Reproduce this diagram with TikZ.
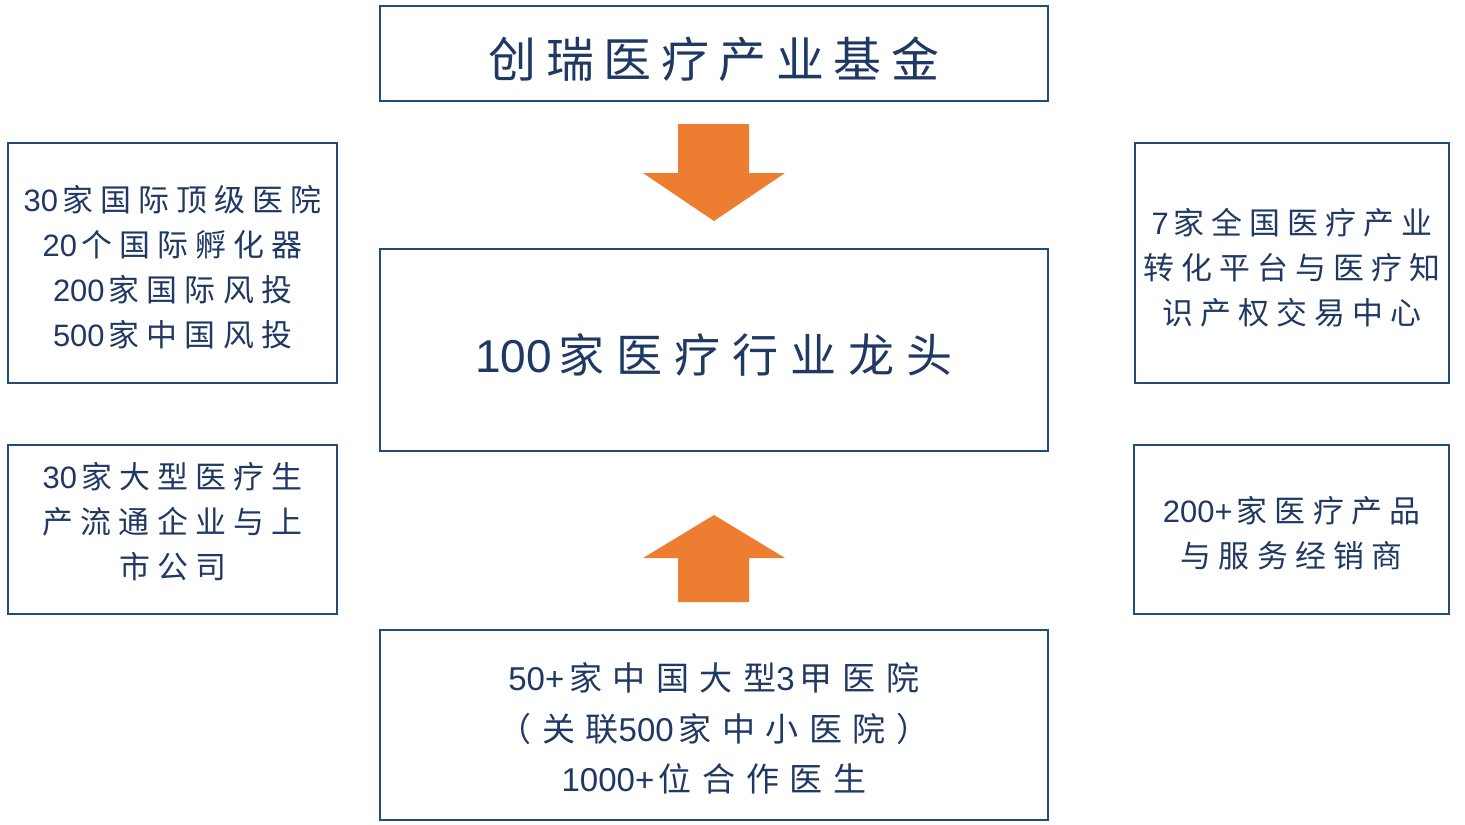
\documentclass[tikz,border=0pt]{standalone}
\usepackage{fontspec}
\setmainfont{Noto Sans CJK SC}
\newfontfamily\latinfont{Liberation Sans}
\newcommand\lat[1]{{\latinfont#1}\kern0.14em}
\newcommand\dropby[1]{\rule{0pt}{#1}}
\newcommand\liftby[1]{\rule[-#1]{0pt}{0pt}}
\definecolor{boxline}{HTML}{1F4E79}
\definecolor{navytext}{HTML}{203864}
\definecolor{arroworange}{HTML}{ED7D31}
\tikzset{
  box/.style={rectangle, draw=boxline, line width=1.2pt, text=navytext, align=center, inner sep=0pt},
  textdrop/.style={execute at begin node={\dropby{#1}}},
  sidetext/.style={font={\fontsize{17.6pt}{25.6pt}\selectfont\addfontfeature{LetterSpace=23}}},
  bottomtext/.style={font={\fontsize{18.8pt}{28.5pt}\selectfont\addfontfeature{LetterSpace=32}}},
}
\begin{document}
\begin{tikzpicture}[x=0.02cm, y=-0.02cm]
  \useasboundingbox (0,0) rectangle (1465,825);
  % Nodes
  \node (fund) [box, minimum width=13.36cm, minimum height=1.9cm, textdrop=1.08em,
    font={\fontsize{27.3pt}{30pt}\selectfont\addfontfeature{LetterSpace=20}}] at (714, 53.5) {创瑞医疗产业基金};
  \node (lead) [box, minimum width=13.36cm, minimum height=4.04cm, textdrop=1.08em,
    font={\fontsize{26.2pt}{30pt}\selectfont\addfontfeature{LetterSpace=26}}] at (714, 350) {\lat{100}家医疗行业龙头};
  \node (hosp) [box, bottomtext, minimum width=13.36cm, minimum height=3.8cm] at (714, 725)
    {\dropby{1.05em}\lat{50+}家中国大型\lat{3}甲医院\\（关联\lat{500}家中小医院）\\\lat{1000+}位合作医生};
  \node (intl) [box, sidetext, minimum width=6.58cm, minimum height=4.8cm] at (172.5, 263)
    {\dropby{1.14em}\lat{30}家国际顶级医院\\\lat{20}个国际孵化器\\\lat{200}家国际风投\\\lat{500}家中国风投};
  \node (maker) [box, sidetext, minimum width=6.58cm, minimum height=3.38cm] at (172.5, 529.5)
    {\lat{30}家大型医疗生\\产流通企业与上\\市公司\liftby{0.6em}};
  \node (platform) [box, sidetext, minimum width=6.28cm, minimum height=4.8cm] at (1292, 263)
    {\dropby{1.14em}\lat{7}家全国医疗产业\\转化平台与医疗知\\识产权交易中心};
  \node (dealer) [box, sidetext, minimum width=6.3cm, minimum height=3.38cm] at (1291.5, 529.5)
    {\dropby{1.1em}\lat{200+}家医疗产品\\与服务经销商};
  % Arrows
  \fill[arroworange] (678,124) -- (749,124) -- (749,173) -- (785,173) -- (714,221)
    -- (643,173) -- (678,173) -- cycle;
  \fill[arroworange] (678,602) -- (749,602) -- (749,558) -- (785,558) -- (714,515)
    -- (643,558) -- (678,558) -- cycle;
\end{tikzpicture}
\end{document}
